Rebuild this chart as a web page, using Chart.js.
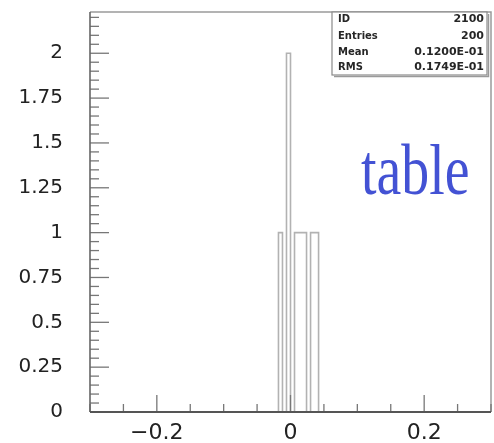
<!DOCTYPE html>
<html>
<head>
<meta charset="utf-8">
<script src="https://cdn.jsdelivr.net/npm/chart.js@4/dist/chart.umd.min.js"></script>
<style>
  html, body { margin: 0; padding: 0; background: #ffffff; }
  #wrap { position: relative; width: 494px; height: 443px; }
  #note {
    position: absolute; left: 361px; top: 134px;
    font: 72px "Liberation Serif", "Times New Roman", serif;
    line-height: 1; color: #4352d4; white-space: nowrap;
    transform: scaleX(0.775); transform-origin: left top;
  }
</style>
</head>
<body>
<div id="wrap">
  <canvas id="hist" width="494" height="443"></canvas>
  <div id="note">table</div>
</div>
<script>
// Histogram 2100: filled bins (lower edge, content)
const binLow   = [-0.018, -0.006, 0.006, 0.012, 0.018, 0.030, 0.036];
const binCount = [1, 2, 1, 1, 1, 1, 1];
const binWidth = 0.006;
const xLimits  = [-0.3, 0.3];
const yLimits  = [0, 2.23];

// Axis labelling
const xLabelValues = [-0.2, 0, 0.2];
const xLabelTexts  = ['\u22120.2', '0', '0.2'];
const yLabelValues = [0, 0.25, 0.5, 0.75, 1, 1.25, 1.5, 1.75, 2];
const yLabelTexts  = ['0', '0.25', '0.5', '0.75', '1', '1.25', '1.5', '1.75', '2'];

// Statistics box
const statNames  = ['ID', 'Entries', 'Mean', 'RMS'];
const statValues = ['2100', '200', '0.1200E-01', '0.1749E-01'];

// Expand to the full set of bins and build the step outline points
const nBins = Math.round((xLimits[1] - xLimits[0]) / binWidth);
const contents = new Array(nBins).fill(0);
binLow.forEach((lo, i) => {
  contents[Math.round((lo - xLimits[0]) / binWidth)] = binCount[i];
});
const outline = contents.map((c, i) => ({ x: xLimits[0] + i * binWidth, y: c }));
outline.push({ x: xLimits[1], y: 0 });

function labelFor(values, texts, v) {
  for (let i = 0; i < values.length; i++) {
    if (Math.abs(values[i] - v) < 1e-9) return texts[i];
  }
  return '';
}

// Inward tick marks, frame and statistics box
const framePlugin = {
  id: 'frame',
  afterDatasetsDraw(chart) {
    const ctx = chart.ctx;
    const { left, right, top, bottom } = chart.chartArea;
    const xs = chart.scales.x, ys = chart.scales.y;
    ctx.save();

    // top and right frame
    ctx.strokeStyle = '#9a9a9a';
    ctx.lineWidth = 1.5;
    ctx.beginPath();
    ctx.moveTo(left, top); ctx.lineTo(right, top); ctx.lineTo(right, bottom);
    ctx.stroke();

    // y ticks
    ctx.strokeStyle = '#777777';
    ctx.lineWidth = 1.3;
    for (let k = 0; k <= 44; k++) {
      const v = k * 0.05;
      const y = ys.getPixelForValue(v);
      const len = (k % 5 === 0) ? 19 : 9;
      ctx.beginPath(); ctx.moveTo(left, y); ctx.lineTo(left + len, y); ctx.stroke();
    }
    // x ticks
    for (let k = 0; k <= 12; k++) {
      const v = xLimits[0] + k * 0.05;
      const x = xs.getPixelForValue(v);
      const len = (k % 4 === 2) ? 17 : 8;
      ctx.beginPath(); ctx.moveTo(x, bottom); ctx.lineTo(x, bottom - len); ctx.stroke();
    }

    // left and bottom axes
    ctx.strokeStyle = '#666666';
    ctx.lineWidth = 1.6;
    ctx.beginPath(); ctx.moveTo(left, top); ctx.lineTo(left, bottom); ctx.stroke();
    ctx.strokeStyle = '#555555';
    ctx.lineWidth = 2;
    ctx.beginPath(); ctx.moveTo(left, bottom); ctx.lineTo(right, bottom); ctx.stroke();

    // statistics box
    const bx = 332, by = 12, bw = 155, bh = 63;
    ctx.fillStyle = '#ffffff';
    ctx.fillRect(bx, by, bw, bh);
    ctx.strokeStyle = '#8a8a8a';
    ctx.lineWidth = 1.2;
    ctx.strokeRect(bx, by, bw, bh);
    ctx.strokeStyle = '#9a9a9a';
    ctx.lineWidth = 1.5;
    ctx.beginPath();
    ctx.moveTo(bx + bw + 1.5, by + 2); ctx.lineTo(bx + bw + 1.5, by + bh + 1.5); ctx.lineTo(bx + 2, by + bh + 1.5);
    ctx.stroke();

    ctx.fillStyle = '#262626';
    ctx.textBaseline = 'middle';
    const rowY = [19, 36.5, 52, 67];
    statNames.forEach((name, i) => {
      ctx.font = 'bold 10px "DejaVu Sans", sans-serif';
      ctx.textAlign = 'left';
      ctx.fillText(name, bx + 6, rowY[i]);
      ctx.font = 'bold 11px "DejaVu Sans", sans-serif';
      ctx.textAlign = 'right';
      ctx.fillText(statValues[i], bx + bw - 3, rowY[i]);
    });
    ctx.restore();
  }
};

new Chart(document.getElementById('hist'), {
  type: 'line',
  data: {
    datasets: [{
      data: outline,
      stepped: 'before',
      borderColor: '#b2b2b2',
      borderWidth: 1.6,
      pointRadius: 0,
      fill: false
    }]
  },
  options: {
    responsive: false,
    animation: false,
    devicePixelRatio: 1,
    layout: { padding: { top: 12, right: 3, left: 0, bottom: 0 } },
    plugins: { legend: { display: false }, tooltip: { enabled: false } },
    scales: {
      x: {
        type: 'linear',
        min: xLimits[0], max: xLimits[1],
        afterFit: s => { s.height = 31; s.paddingLeft = 0; s.paddingRight = 0; },
        grid: { display: false, drawTicks: false },
        border: { display: false },
        ticks: {
          stepSize: 0.1, autoSkip: false, maxRotation: 0, padding: 8,
          color: '#222222',
          font: { family: '"DejaVu Sans", sans-serif', size: 22 },
          callback: v => labelFor(xLabelValues, xLabelTexts, v)
        }
      },
      y: {
        min: yLimits[0], max: yLimits[1],
        afterFit: s => { s.width = 90; s.paddingTop = 0; s.paddingBottom = 0; },
        grid: { display: false, drawTicks: false },
        border: { display: false },
        ticks: {
          stepSize: 0.25, autoSkip: false, padding: 27,
          color: '#222222',
          font: { family: '"DejaVu Sans", sans-serif', size: 20 },
          callback: v => labelFor(yLabelValues, yLabelTexts, v)
        }
      }
    }
  },
  plugins: [framePlugin]
});
</script>
</body>
</html>
